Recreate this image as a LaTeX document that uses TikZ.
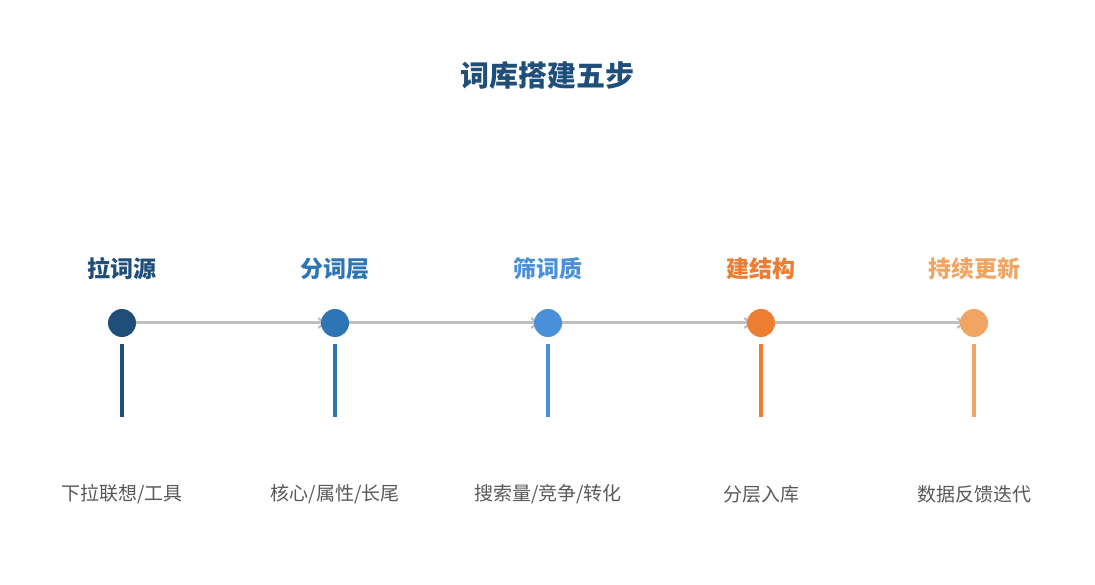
\documentclass[tikz,border=0pt]{standalone}
\usepackage{fontspec}
\setmainfont{Noto Sans CJK SC}
\usepackage{tikz, xcolor}
\usetikzlibrary{arrows.meta}
\newcommand{\unitsize}{1pt}

\definecolor{stepA}{HTML}{1F4E79}
\definecolor{stepB}{HTML}{2E75B6}
\definecolor{stepC}{HTML}{4A90D9}
\definecolor{stepD}{HTML}{ED7D31}
\definecolor{stepE}{HTML}{F0A562}
\definecolor{linkgray}{HTML}{BFBFBF}
\definecolor{notegray}{HTML}{595959}

\begin{document}
\begin{tikzpicture}[x=\unitsize,y=-\unitsize]
\useasboundingbox[fill=white] (0,0) rectangle (1095,585);
\tikzstyle{dot}=[circle, minimum size=28*\unitsize, inner sep=0pt]
\tikzstyle{stepname}=[font=\bfseries\fontsize{23}{27}\selectfont, inner sep=0pt]
\tikzstyle{note}=[font=\fontsize{19}{23}\selectfont, text=notegray, inner sep=0pt]
\tikzstyle{link}=[draw=linkgray, line width=3*\unitsize, -{Straight Barb[length=6pt,width=10pt,line width=2.2pt]},
                  shorten <=14*\unitsize, shorten >=9*\unitsize]
\tikzstyle{stem}=[line width=4*\unitsize]

\node[font=\bfseries\fontsize{29}{34}\selectfont, text=stepA, inner sep=0pt] (title) at (547,75) {词库搭建五步};

\coordinate (p1) at (122,323);
\coordinate (p2) at (335,323);
\coordinate (p3) at (548,323);
\coordinate (p4) at (761,323);
\coordinate (p5) at (974,323);

\draw[link] (p1) -- (p2);
\draw[link] (p2) -- (p3);
\draw[link] (p3) -- (p4);
\draw[link] (p4) -- (p5);

\node[dot, fill=stepA] (c1) at (p1) {};
\node[dot, fill=stepB] (c2) at (p2) {};
\node[dot, fill=stepC] (c3) at (p3) {};
\node[dot, fill=stepD] (c4) at (p4) {};
\node[dot, fill=stepE] (c5) at (p5) {};

\draw[stem, draw=stepA] ([yshift=-21*\unitsize]p1) -- ([yshift=-94*\unitsize]p1);
\draw[stem, draw=stepB] ([yshift=-21*\unitsize]p2) -- ([yshift=-94*\unitsize]p2);
\draw[stem, draw=stepC] ([yshift=-21*\unitsize]p3) -- ([yshift=-94*\unitsize]p3);
\draw[stem, draw=stepD] ([yshift=-21*\unitsize]p4) -- ([yshift=-94*\unitsize]p4);
\draw[stem, draw=stepE] ([yshift=-21*\unitsize]p5) -- ([yshift=-94*\unitsize]p5);

\node[stepname, text=stepA] (n1) at (122,269) {拉词源};
\node[stepname, text=stepB] (n2) at (335,269) {分词层};
\node[stepname, text=stepC] (n3) at (548,269) {筛词质};
\node[stepname, text=stepD] (n4) at (761,269) {建结构};
\node[stepname, text=stepE] (n5) at (974,269) {持续更新};

\node[note] (d1) at (122,494) {下拉联想/工具};
\node[note] (d2) at (335,494) {核心/属性/长尾};
\node[note] (d3) at (548,494) {搜索量/竞争/转化};
\node[note] (d4) at (761,494) {分层入库};
\node[note] (d5) at (974,494) {数据反馈迭代};

\end{tikzpicture}
\end{document}
